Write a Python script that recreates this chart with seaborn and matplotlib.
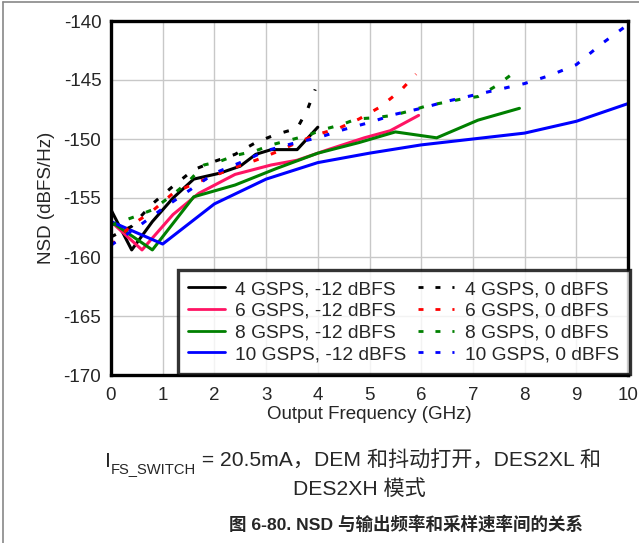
import seaborn as sns
import matplotlib.pyplot as plt
from matplotlib.lines import Line2D

# NSD vs output frequency
# 4 GSPS
f_4g_m12 = [0, 0.4, 0.8, 1.2, 1.6, 2.1, 2.5, 2.8, 3.1, 3.6, 4.0]
nsd_4g_m12 = [-156, -159.4, -157, -155, -153.4, -152.9, -152.3, -151.3, -150.9, -150.9, -149]
f_4g_0 = [0, 0.4, 0.8, 1.2, 1.6, 2.0, 2.4, 2.8, 3.2, 3.6, 3.8, 3.95]
nsd_4g_0 = [-158.3, -157.4, -155.5, -154, -152.6, -151.9, -151.3, -150.3, -149.6, -149.1, -147.5, -145.8]

# 6 GSPS
f_6g_m12 = [0, 0.6, 1.2, 1.7, 2.4, 3.1, 3.6, 4.2, 4.9, 5.4, 5.95]
nsd_6g_m12 = [-157, -159.4, -156.4, -154.6, -153, -152.2, -151.8, -150.9, -149.9, -149.3, -148]
f_6g_0 = [0, 0.4, 0.8, 1.2, 1.6, 2.0, 2.4, 2.8, 3.2, 3.6, 4.0, 4.4, 4.8, 5.2, 5.6, 5.9]
nsd_6g_0 = [-159, -157.3, -156.1, -154.6, -153.8, -153.1, -152.4, -151.8, -151.1, -150.3,
            -149.6, -149.1, -148.3, -147.3, -145.9, -144.5]

# 8 GSPS
f_8g_m12 = [0, 0.8, 1.6, 2.4, 3.2, 4.0, 4.8, 5.5, 6.3, 7.1, 7.9]
nsd_8g_m12 = [-157, -159.4, -154.9, -153.9, -152.5, -151.2, -150.3, -149.4, -149.9, -148.4, -147.4]
f_8g_0 = [0, 0.45, 0.8, 1.2, 1.5, 1.8, 2.1, 2.4, 2.8, 3.1, 3.45, 3.8, 4.1, 4.45, 4.75,
          5.1, 5.45, 5.8, 6.1, 6.45, 6.8, 7.1, 7.45, 7.85]
nsd_8g_0 = [-157.3, -156.6, -156, -154.7, -153.6, -152.2, -151.9, -151.4, -151, -150.5,
            -150.1, -149.7, -149.2, -148.8, -148.3, -148.2, -148, -147.6, -147.2, -146.9,
            -146.6, -146.4, -145.5, -144.2]

# 10 GSPS
f_10g_m12 = [0, 1, 2, 3, 4, 5, 6, 7, 8, 9, 10]
nsd_10g_m12 = [-157, -158.9, -155.5, -153.4, -152, -151.2, -150.5, -150, -149.5, -148.5, -147]
f_10g_0 = [0, 0.5, 1, 1.5, 2, 2.5, 3, 3.5, 4, 4.5, 5, 5.5, 6, 6.5, 7, 7.5, 8, 8.5, 9, 9.5, 10]
nsd_10g_0 = [-159, -157.5, -155.9, -154.4, -152.9, -152, -151, -150.4, -149.9, -149.2, -148.6,
             -147.9, -147.4, -146.8, -146.3, -145.8, -145.3, -144.6, -143.7, -141.9, -140.3]

x_ticks = [0, 1, 2, 3, 4, 5, 6, 7, 8, 9, 10]
y_ticks = [-170, -165, -160, -155, -150, -145, -140]

sns.set_style('white')
plt.rcParams['font.family'] = ['Liberation Sans', 'Noto Sans CJK SC']
plt.rcParams['axes.unicode_minus'] = False

fig = plt.figure(figsize=(6.39, 5.43), dpi=100)
ax = fig.add_axes([111/639, 1 - 375/543, 517/639, 354/543])

dash = (0, (1.8, 4.3))
solid_lw = 2.2
series = [
    (f_4g_m12, nsd_4g_m12, 'black', '-', '4 GSPS, -12 dBFS'),
    (f_6g_m12, nsd_6g_m12, '#ff1464', '-', '6 GSPS, -12 dBFS'),
    (f_8g_m12, nsd_8g_m12, '#008000', '-', '8 GSPS, -12 dBFS'),
    (f_10g_m12, nsd_10g_m12, '#0000ff', '-', '10 GSPS, -12 dBFS'),
    (f_4g_0, nsd_4g_0, 'black', dash, '4 GSPS, 0 dBFS'),
    (f_6g_0, nsd_6g_0, '#ff0000', dash, '6 GSPS, 0 dBFS'),
    (f_8g_0, nsd_8g_0, '#008000', dash, '8 GSPS, 0 dBFS'),
    (f_10g_0, nsd_10g_0, '#0000ff', dash, '10 GSPS, 0 dBFS'),
]
for xs, ys, c, ls, lab in series:
    sns.lineplot(x=xs, y=ys, ax=ax, color=c, linestyle=ls, lw=solid_lw,
                 label=lab, sort=False, estimator=None)

ax.set_xlim(0, 10)
ax.set_ylim(-170, -140)
ax.set_xticks(x_ticks)
ax.set_yticks(y_ticks)
ax.grid(True, color='#c8c8c8', lw=1)
ax.tick_params(axis='x', length=0, labelsize=13.5, pad=9)
ax.tick_params(axis='y', length=0, labelsize=13.5, pad=7)
for s in ax.spines.values():
    s.set_color('black')
    s.set_linewidth(2.4)
ax.set_xlabel('Output Frequency (GHz)', fontsize=13.5, labelpad=1)
ax.set_ylabel('NSD (dBFS/Hz)', fontsize=13.5, labelpad=6)

leg = ax.legend(ncol=2, loc='lower right', bbox_to_anchor=(1.003, 0.004),
                fontsize=13.8, frameon=True, fancybox=False, handlelength=1.9,
                handletextpad=0.55, columnspacing=0.6, labelspacing=0.22,
                borderpad=0.55, borderaxespad=0.0)
leg.get_frame().set_edgecolor('black')
leg.get_frame().set_linewidth(2.4)
for h in leg.legend_handles:
    h.set_linewidth(2.0)

# caption below the chart
fig.canvas.draw()
r = fig.canvas.get_renderer()
fs = 15.2
y1 = 1 - 467/543
t = fig.text(105/639, y1, 'I', fontsize=fs, va='baseline', ha='left')
bb = t.get_window_extent(r)
t2 = fig.text(bb.x1/639, y1 - 6/543, 'FS_SWITCH', fontsize=fs*0.7, va='baseline', ha='left')
bb2 = t2.get_window_extent(r)
fig.text(bb2.x1/639, y1, ' = 20.5mA，DEM 和抖动打开，DES2XL 和', fontsize=fs,
         va='baseline', ha='left')
fig.text(359/639, 1 - 495/543, 'DES2XH 模式', fontsize=fs, va='baseline', ha='center')
fig.text(406/639, 1 - 530/543, '图 6-80. NSD 与输出频率和采样速率间的关系', fontsize=12.6,
         fontweight='bold', va='baseline', ha='center')

# page frame lines (top and left)
fig.add_artist(Line2D([3/639, 1], [1 - 1.5/543, 1 - 1.5/543], color='#888888', lw=1.2))
fig.add_artist(Line2D([3/639, 3/639], [0, 1 - 1.5/543], color='#888888', lw=1.2))

fig.savefig('out.png', dpi=100)
